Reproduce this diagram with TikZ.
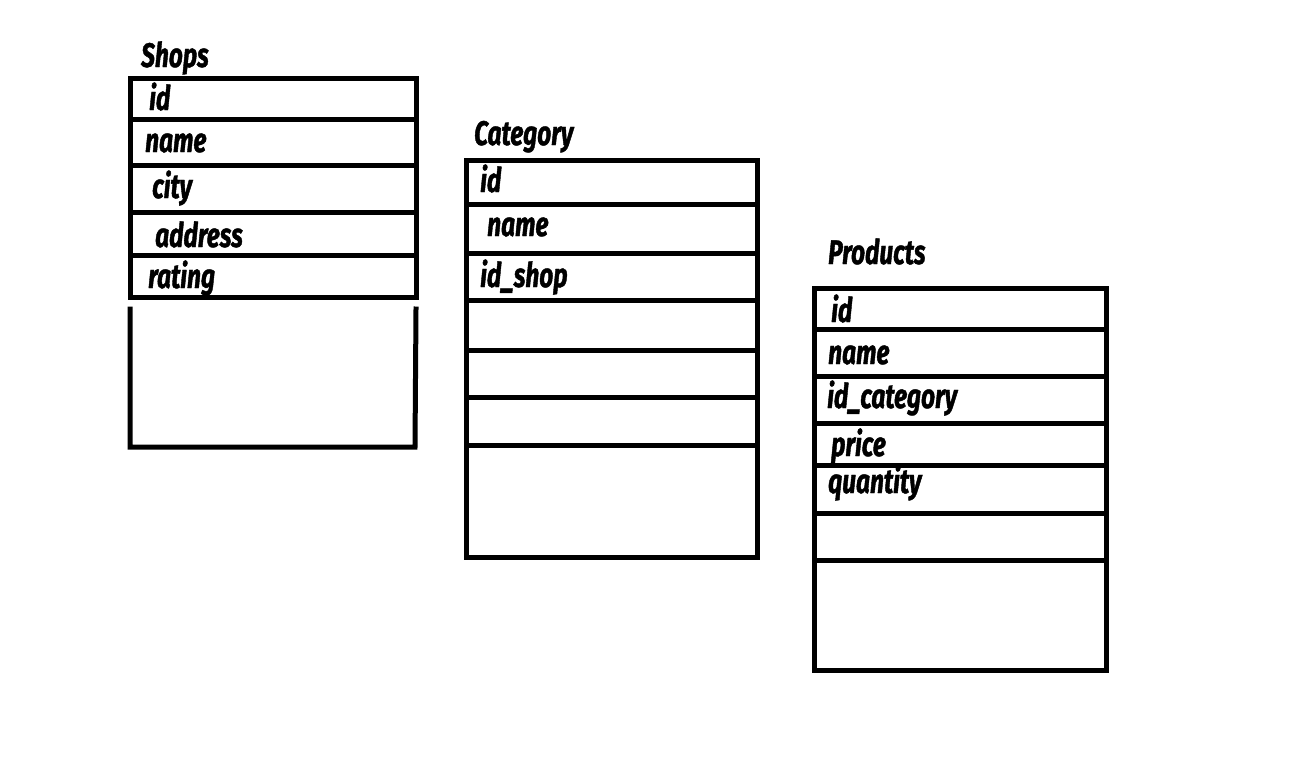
\documentclass[tikz,border=0pt]{standalone}
\usepackage{fontspec}
\newfontfamily\tabfont[FakeStretch=0.72,FakeBold=1.2]{Fira Sans}
\begin{document}
\begin{tikzpicture}[x=1pt,y=-1pt,
  lbl/.style={anchor=base west, inner sep=0pt, font=\tabfont\bfseries\itshape\fontsize{34}{36}\selectfont},
  ttl/.style={lbl},
  frame/.style={line width=5pt, line join=miter, line cap=rect},
  rowline/.style={line width=5pt, line cap=butt}]
\useasboundingbox[fill=white] (0,0) rectangle (1304,756);

% ---------- Shops ----------
\node[ttl] (shopsT) at (141,67) {Shops};
\node[lbl] (s1) at (149,110) {id};
\node[lbl] (s2) at (145,152) {name};
\node[lbl] (s3) at (152,198) {city};
\node[lbl] (s4) at (155,247) {address};
\node[lbl] (s5) at (148,288) {rating};
\draw[frame] (130,78) rectangle (416,297);
\draw[rowline] (128,119) -- (418,119);
\draw[rowline] (128,165) -- (418,165);
\draw[rowline] (128,212) -- (418,212);
\draw[rowline] (128,255) -- (418,255);
\draw[frame] (130,309) -- (130,447) -- (415,447) -- (416,309);

% ---------- Category ----------
\node[ttl] (catT) at (474,145) {Category};
\node[lbl] (c1) at (480,192) {id};
\node[lbl] (c2) at (487,236) {name};
\node[lbl] (c3) at (480,287) {id\_shop};
\draw[frame] (466,160) rectangle (757,557);
\foreach \yy in {204,253,300,350,397,445}
  \draw[rowline] (466,\yy) -- (757,\yy);

% ---------- Products ----------
\node[ttl] (prodT) at (828,264) {Products};
\node[lbl] (p1) at (831,322) {id};
\node[lbl] (p2) at (828,364) {name};
\node[lbl] (p3) at (827,408) {id\_category};
\node[lbl] (p4) at (831,456) {price};
\node[lbl] (p5) at (828,493) {quantity};
\draw[frame] (814,288) rectangle (1106,670);
\foreach \yy in {329,376,423,465,513,560}
  \draw[rowline] (814,\yy) -- (1108,\yy);
\end{tikzpicture}
\end{document}
